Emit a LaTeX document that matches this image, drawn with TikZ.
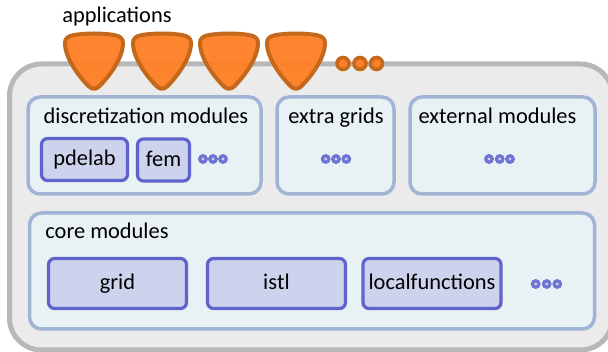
\documentclass[tikz,border=0pt]{standalone}
\usepackage{fontspec}
\setmainfont[Ligatures={Common,Rare}]{Carlito}
\definecolor{outerfill}{HTML}{EBEBEB}
\definecolor{outerline}{HTML}{B8B8B8}
\definecolor{panelfill}{HTML}{E8F1F3}
\definecolor{panelline}{HTML}{A0B4D6}
\definecolor{modfill}{HTML}{CDD3EC}
\definecolor{modline}{HTML}{5F63CC}
\definecolor{apporange}{HTML}{FF7F26}
\definecolor{appline}{HTML}{C4681C}
\tikzset{
  x=1pt,y=-1pt,
  outerbox/.style={draw=outerline,fill=outerfill,line width=5pt,rounded corners=32pt,inner sep=0pt},
  panelbox/.style={draw=panelline,fill=panelfill,line width=3.5pt,rounded corners=12pt,inner sep=0pt},
  modbox/.style={draw=modline,fill=modfill,line width=3.2pt,rounded corners=6pt,inner sep=0pt,
    font=\fontsize{22.4}{22.4}\selectfont,text height=17pt,text depth=4pt},
  lbl/.style={anchor=base,inner sep=0pt,font=\fontsize{22.4}{22.4}\selectfont,text=black},
  dotm/.style={circle,draw=modline!90!white,fill=modfill,line width=3.2pt,minimum size=6.5pt,inner sep=0pt},
  dota/.style={circle,draw=appline,fill=apporange,line width=3.6pt,minimum size=12pt,inner sep=0pt},
  app/.style={draw=appline,fill=apporange,fill opacity=.96,line width=4pt,line join=round},
}
\newcommand{\apppick}[1]{%
  \draw[app,shift={(#1,0)}] (-20,35)
    .. controls (-8,33) and (8,33) .. (20,35)
    .. controls (26,36) and (29.5,38.5) .. (29,44)
    .. controls (28.5,59) and (14,78) .. (5,86.5)
    .. controls (2,89.5) and (-2,89.5) .. (-5,86.5)
    .. controls (-14,78) and (-28.5,59) .. (-29,44)
    .. controls (-29.5,38.5) and (-26,36) .. (-20,35) -- cycle;}
\begin{document}
\begin{tikzpicture}
\useasboundingbox (0,0) rectangle (608,352);
\node[outerbox,minimum width=603pt,minimum height=286pt] (outer) at (311,207) {};
\apppick{94}\apppick{162}\apppick{229}\apppick{296}
\node[dota] (a1) at (343,63.5) {};
\node[dota] (a2) at (360,63.5) {};
\node[dota] (a3) at (376.5,63.5) {};
\node[lbl] (apps) at (117,22.2) {applications};
\node[panelbox,minimum width=233pt,minimum height=97pt] (disc) at (144.5,145.5) {};
\node[panelbox,minimum width=117pt,minimum height=97pt] (extra) at (335.5,145.5) {};
\node[panelbox,minimum width=185pt,minimum height=97pt] (ext) at (502.5,145.5) {};
\node[panelbox,minimum width=565pt,minimum height=116pt] (core) at (312,271) {};
\node[lbl] (tdisc) at (146,123.5) {discretization modules};
\node[lbl] (textra) at (336,123.5) {extra grids};
\node[lbl] (text) at (497.5,123.5) {external modules};
\node[lbl] (tcore) at (107,238.8) {core modules};
\node[modbox,minimum width=86pt,minimum height=42pt] (pdelab) at (84.5,159.5) {pdelab};
\node[modbox,minimum width=52pt,minimum height=42pt] (fem) at (163.5,160) {fem};
\node[modbox,minimum width=138pt,minimum height=50pt] (grid) at (117.5,283.5) {grid};
\node[modbox,minimum width=138pt,minimum height=50pt] (istl) at (276.5,283.5) {is\kern0pt tl};
\node[modbox,minimum width=138pt,minimum height=50pt] (lf) at (432,283.5) {localfunc\kern0pt tions};
\foreach \n/\x/\y in {d1/203/159,d2/213/159,d3/223/159,e1/325.7/159,e2/336/159,e3/346.3/159,x1/489/159,x2/499.7/159,x3/510/159,c1/535.7/284,c2/546.7/284,c3/557.3/284}
  \node[dotm] (\n) at (\x,\y) {};
\end{tikzpicture}
\end{document}
